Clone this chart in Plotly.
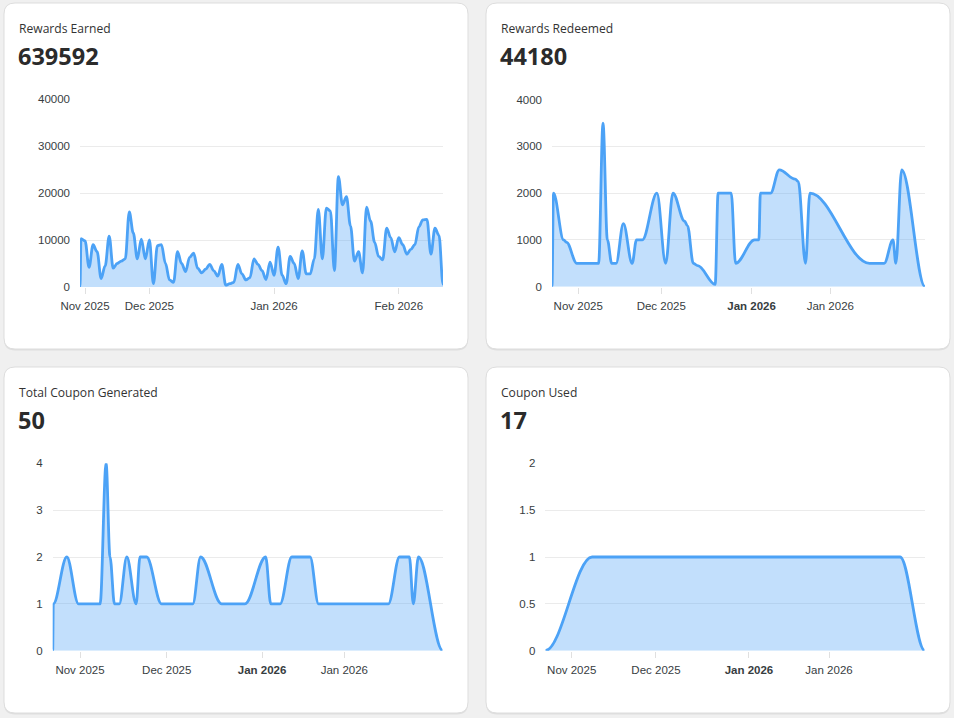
import plotly.graph_objects as go
import pandas as pd

W, H = 954, 718

# ---------------- data ----------------
earned_title = "Rewards Earned"
earned_total = "639592"
earned_dates = ["2025-11-13 18:00"] + [d.strftime("%Y-%m-%d") for d in pd.date_range("2025-11-14", "2026-02-12")]
earned_values = [0,
    10300, 9800, 4200, 9000, 7500, 1800, 4500, 10800, 4000, 5000,
    5500, 6000, 16000, 11500, 6000, 10200, 6000, 10000, 700, 8800,
    9000, 5000, 1500, 1000, 7500, 5000, 3300, 6300, 7200, 4000,
    3000, 3800, 4800, 3500, 2300, 4800, 400, 700, 1000, 4800,
    2800, 1500, 2000, 6000, 4800, 3500, 1600, 5300, 2500, 8500,
    2500, 700, 6500, 5000, 1800, 7700, 2800, 2800, 6000, 16500,
    6000, 16800, 16200, 3500, 23500, 17500, 19200, 13000, 5500, 7500,
    3000, 17000, 14000, 9500, 6500, 5800, 12500, 10500, 7500, 10500,
    9000, 7000, 8000, 9000, 12800, 14300, 14400, 7000, 12500, 11000,
    600]
earned_tickvals = ["2025-11-15", "2025-12-01", "2026-01-01", "2026-02-01"]
earned_ticktext = ["Nov 2025", "Dec 2025", "Jan 2026", "Feb 2026"]

redeemed_title = "Rewards Redeemed"
redeemed_total = "44180"
redeemed_days = [0, 0.5, 4, 5, 8.5, 16, 17.5, 19, 20.5, 22, 24.5, 27.5, 29, 31, 36, 39, 41.5,
                 45.5, 46.5, 48.5, 50, 56, 57, 61.5, 63, 69.5, 71, 71.5, 75, 78, 83.5, 84.5,
                 87, 88.5, 109, 114, 117, 118, 120, 128]
redeemed_values = [0, 2000, 1000, 950, 500, 500, 3500, 1000, 500, 500, 1350, 500, 1000, 1000,
                   2000, 500, 2000, 1400, 1300, 500, 450, 50, 2000, 2000, 500, 1000, 1000, 2000,
                   2000, 2500, 2300, 2250, 500, 2000, 500, 500, 1000, 500, 2500, 0]
redeemed_tickvals = [9, 37.5, 68.5, 95.5]
redeemed_ticktext = ["Nov 2025", "Dec 2025", "<b>Jan 2026</b>", "Jan 2026"]

generated_title = "Total Coupon Generated"
generated_total = "50"
generated_days = [0, 0.2, 4.7, 8.6, 12, 15.8, 17.8, 19.1, 20.6, 22.2, 24.7, 27.8, 29.1, 31.3,
                  36.3, 40, 43, 46.7, 49.3, 56.3, 60, 64.1, 71, 72.7, 75.8, 79.7, 85.8, 88.6,
                  95, 100, 105, 111.9, 115.6, 118.9, 120.2, 121.9, 130]
generated_values = [0, 1, 2, 1, 1, 1, 4, 2, 1, 1, 2, 1, 2, 2,
                    1, 1, 1, 1, 2, 1, 1, 1, 2, 1, 1, 2, 2, 1,
                    1, 1, 1, 1, 2, 2, 1, 2, 0]
generated_tickvals = [9.1, 38, 69.8, 97.2]
generated_ticktext = ["Nov 2025", "Dec 2025", "<b>Jan 2026</b>", "Jan 2026"]

used_title = "Coupon Used"
used_total = "17"
used_days = [0, 15.6, 22, 28.4, 34.9, 41.3, 47.7, 54.1, 60.5, 67, 73.4, 79.8, 86.2, 92.6,
             99, 105.5, 111.9, 118.3, 126.5]
used_values = [0, 1, 1, 1, 1, 1, 1, 1, 1, 1, 1, 1, 1, 1, 1, 1, 1, 1, 0]
used_tickvals = [8.8, 36.9, 67.9, 94.6]
used_ticktext = ["Nov 2025", "Dec 2025", "<b>Jan 2026</b>", "Jan 2026"]

# ---------------- styling ----------------
LINE = "#4ca2f6"
FILL = "rgba(76,162,246,0.34)"
GRID = "#ebebeb"
AX_TXT = "#373d3f"
AX_FONT = "Liberation Sans, Arial, sans-serif"
CARD_FONT = "Open Sans, Noto Sans, sans-serif"


def fx(px):
    return px / W


def fy(py):
    return 1 - py / H


def rounded_path(x0, y0, x1, y1, r):
    pts = [
        f"M {fx(x0 + r)} {fy(y0)}",
        f"L {fx(x1 - r)} {fy(y0)}",
        f"Q {fx(x1)} {fy(y0)} {fx(x1)} {fy(y0 + r)}",
        f"L {fx(x1)} {fy(y1 - r)}",
        f"Q {fx(x1)} {fy(y1)} {fx(x1 - r)} {fy(y1)}",
        f"L {fx(x0 + r)} {fy(y1)}",
        f"Q {fx(x0)} {fy(y1)} {fx(x0)} {fy(y1 - r)}",
        f"L {fx(x0)} {fy(y0 + r)}",
        f"Q {fx(x0)} {fy(y0)} {fx(x0 + r)} {fy(y0)}",
        "Z",
    ]
    return " ".join(pts)


def smooth_paths(xs, ys, is_date):
    """ApexCharts-style 'smooth' curve: cubic segments with horizontal tangents,
    expressed in data coordinates so the axes do the scaling."""
    if is_date:
        xv = [pd.Timestamp(v) for v in xs]
        fmt = lambda t: t.strftime("%Y-%m-%d_%H:%M:%S")
    else:
        xv = [float(v) for v in xs]
        fmt = lambda t: f"{t:.4f}"
    seg = [f"M {fmt(xv[0])} {ys[0]}"]
    for k in range(1, len(xv)):
        x0, x1 = xv[k - 1], xv[k]
        y0, y1 = ys[k - 1], ys[k]
        d = (x1 - x0) * 0.35
        seg.append(f"C {fmt(x0 + d)} {y0} {fmt(x1 - d)} {y1} {fmt(x1)} {y1}")
    line_path = " ".join(seg)
    fill_path = line_path + f" L {fmt(xv[-1])} 0 L {fmt(xv[0])} 0 Z"
    return line_path, fill_path


panels = [
    dict(title=earned_title, total=earned_total, x=earned_dates, y=earned_values,
         tv=earned_tickvals, tt=earned_ticktext,
         yt=[0, 10000, 20000, 30000, 40000], ytt=["0", "10000", "20000", "30000", "40000"],
         box=(80, 443, 99, 287), card=(4, 3, 468, 349), yr=[0, 40000],
         xr=[earned_dates[0], earned_dates[-1]], date=True),
    dict(title=redeemed_title, total=redeemed_total, x=redeemed_days, y=redeemed_values,
         tv=redeemed_tickvals, tt=redeemed_ticktext,
         yt=[0, 1000, 2000, 3000, 4000], ytt=["0", "1000", "2000", "3000", "4000"],
         box=(552, 925, 99.7, 286.7), card=(486, 3, 950, 349), yr=[0, 4000],
         xr=[0, 128], date=False),
    dict(title=generated_title, total=generated_total, x=generated_days, y=generated_values,
         tv=generated_tickvals, tt=generated_ticktext,
         yt=[0, 1, 2, 3, 4], ytt=["0", "1", "2", "3", "4"],
         box=(52.7, 442.7, 463.3, 650.7), card=(4, 367, 468, 713), yr=[0, 4],
         xr=[0, 130], date=False),
    dict(title=used_title, total=used_total, x=used_days, y=used_values,
         tv=used_tickvals, tt=used_ticktext,
         yt=[0, 0.5, 1, 1.5, 2], ytt=["0", "0.5", "1", "1.5", "2"],
         box=(545.3, 924.7, 463.3, 650.7), card=(486, 367, 950, 713), yr=[0, 2],
         xr=[0, 126.5], date=False),
]

fig = go.Figure()
shapes = []
annotations = []
layout_axes = {}

for i, p in enumerate(panels, start=1):
    xa = "x" if i == 1 else f"x{i}"
    ya = "y" if i == 1 else f"y{i}"
    # invisible trace carrying the data (for hover / axis binding)
    fig.add_trace(go.Scatter(
        x=p["x"], y=p["y"], xaxis=xa, yaxis=ya, mode="lines",
        line=dict(color=LINE, width=0), opacity=0,
        hovertemplate="%{y}<extra></extra>", showlegend=False,
    ))
    line_path, fill_path = smooth_paths(p["x"], p["y"], p["date"])
    shapes.append(dict(type="path", xref=xa, yref=ya, layer="between",
                       path=fill_path, fillcolor=FILL, line=dict(width=0)))
    shapes.append(dict(type="path", xref=xa, yref=ya, layer="between",
                       path=line_path, fillcolor="rgba(0,0,0,0)",
                       line=dict(color=LINE, width=2.8)))

    l, r, t, b = p["box"]
    xkey = "xaxis" if i == 1 else f"xaxis{i}"
    ykey = "yaxis" if i == 1 else f"yaxis{i}"
    layout_axes[xkey] = dict(
        domain=[fx(l), fx(r)], anchor=ya, range=p["xr"],
        tickmode="array", tickvals=p["tv"], ticktext=p["tt"],
        showgrid=False, zeroline=False, showline=False,
        ticks="outside", ticklen=6, tickcolor="#e0e0e0", tickwidth=1,
        tickfont=dict(family=AX_FONT, size=11.5, color=AX_TXT),
        ticklabelstandoff=2, automargin=False,
        fixedrange=True,
    )
    if p["date"]:
        layout_axes[xkey]["type"] = "date"
    layout_axes[ykey] = dict(
        domain=[fy(b), fy(t)], anchor=xa, range=p["yr"],
        tickmode="array", tickvals=p["yt"], ticktext=p["ytt"],
        showgrid=True, gridcolor=GRID, gridwidth=1, zeroline=False, showline=False,
        ticks="", tickfont=dict(family=AX_FONT, size=11.5, color=AX_TXT),
        ticklabelstandoff=9, automargin=False,
        fixedrange=True,
    )
    cx0, cy0, cx1, cy1 = p["card"]
    shapes.append(dict(type="path", xref="paper", yref="paper", layer="below",
                       path=rounded_path(cx0, cy0 + 1.5, cx1, cy1 + 1.5, 11),
                       fillcolor="rgba(0,0,0,0.07)", line=dict(width=0)))
    shapes.append(dict(type="path", xref="paper", yref="paper", layer="below",
                       path=rounded_path(cx0, cy0, cx1, cy1, 11),
                       fillcolor="#ffffff", line=dict(color="#dddddd", width=1)))
    annotations.append(dict(xref="paper", yref="paper", x=fx(cx0 + 13), y=fy(cy0 + 25.5),
                            xanchor="left", yanchor="middle", showarrow=False,
                            text=p["title"],
                            font=dict(family=CARD_FONT, size=12.1, color="#333333")))
    annotations.append(dict(xref="paper", yref="paper", x=fx(cx0 + 12), y=fy(cy0 + 53),
                            xanchor="left", yanchor="middle", showarrow=False,
                            text=f"<b>{p['total']}</b>",
                            font=dict(family=CARD_FONT, size=23.5, color="#2b2b2b")))

fig.update_layout(
    width=W, height=H, margin=dict(l=0, r=0, t=0, b=0, pad=0, autoexpand=False),
    paper_bgcolor="#f0f0f0", plot_bgcolor="rgba(0,0,0,0)",
    shapes=shapes, annotations=annotations, showlegend=False,
    **layout_axes,
)

fig.write_html("out.html", config={"displayModeBar": False},
               post_script="document.body.style.margin='0';document.body.style.overflow='hidden';")
